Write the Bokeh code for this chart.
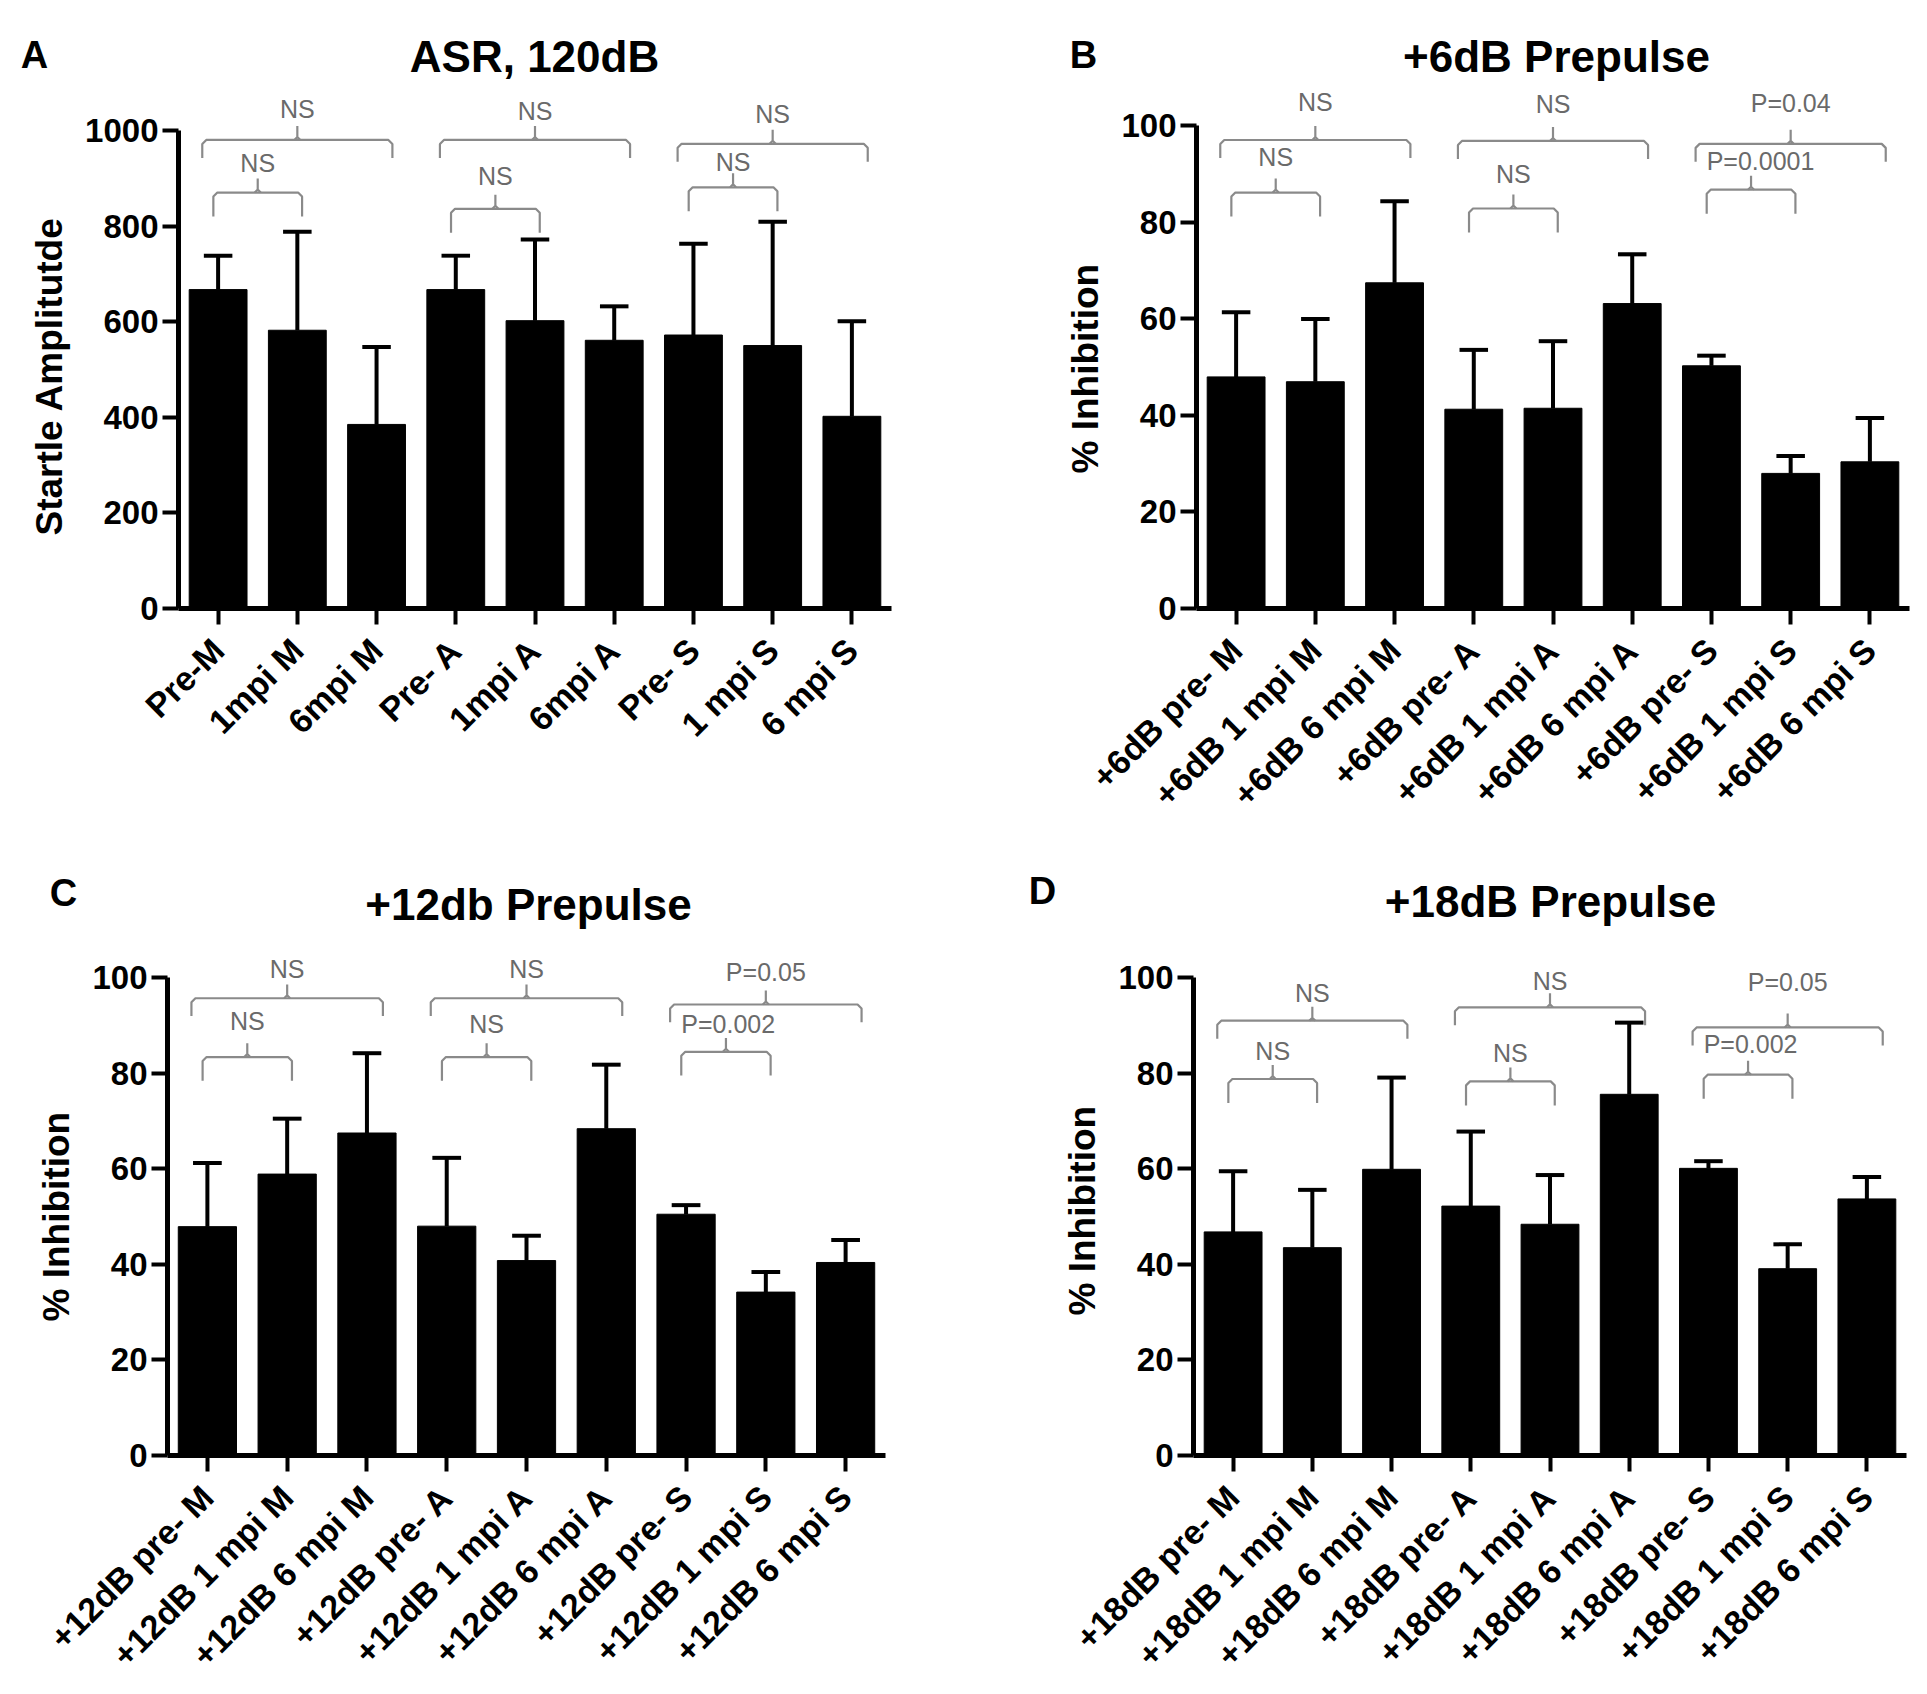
import math
from bokeh.plotting import figure
from bokeh.models import Range1d, FixedTicker, ColumnDataSource, Title
from bokeh.core.properties import value
from bokeh.layouts import column, row
from bokeh.embed import file_html
from bokeh.resources import INLINE

FONT = "Liberation Sans"

# ---------------- data ----------------
labels_A = ["Pre-M", "1mpi M", "6mpi M", "Pre- A", "1mpi A", "6mpi A", "Pre- S", "1 mpi S", "6 mpi S"]
means_A = [667, 582, 385, 667, 602, 561, 572, 550, 402]
sems_A = [71, 206, 162, 71, 170, 71, 191, 259, 199]

labels_B = ["+6dB pre- M", "+6dB 1 mpi M", "+6dB 6 mpi M", "+6dB pre- A", "+6dB 1 mpi A",
            "+6dB 6 mpi A", "+6dB pre- S", "+6dB 1 mpi S", "+6dB 6 mpi S"]
means_B = [48.0, 47.0, 67.5, 41.3, 41.5, 63.2, 50.3, 28.0, 30.4]
sems_B = [13.4, 13.0, 16.9, 12.3, 13.9, 10.2, 2.1, 3.6, 9.1]

labels_C = ["+12dB pre- M", "+12dB 1 mpi M", "+12dB 6 mpi M", "+12dB pre- A", "+12dB 1 mpi A",
            "+12dB 6 mpi A", "+12dB pre- S", "+12dB 1 mpi S", "+12dB 6 mpi S"]
means_C = [47.9, 58.9, 67.5, 48.0, 40.8, 68.4, 50.5, 34.2, 40.4]
sems_C = [13.3, 11.6, 16.7, 14.3, 5.2, 13.4, 1.9, 4.2, 4.7]

labels_D = ["+18dB pre- M", "+18dB 1 mpi M", "+18dB 6 mpi M", "+18dB pre- A", "+18dB 1 mpi A",
            "+18dB 6 mpi A", "+18dB pre- S", "+18dB 1 mpi S", "+18dB 6 mpi S"]
means_D = [46.8, 43.5, 59.9, 52.2, 48.4, 75.6, 60.1, 39.1, 53.7]
sems_D = [12.7, 12.1, 19.2, 15.6, 10.3, 15.0, 1.5, 5.1, 4.6]

# brackets: (first category, last category, line height, text height, text)
brackets_A = [(0, 2, 980, 1045, "NS"), (0, 1, 870, 932, "NS"),
              (3, 5, 980, 1040, "NS"), (3, 4, 836, 904, "NS"),
              (6, 8, 972, 1034, "NS"), (6, 7, 881, 934, "NS")]
brackets_B = [(0, 2, 97.1, 105.0, "NS"), (0, 1, 86.2, 93.5, "NS"),
              (3, 5, 96.9, 104.6, "NS"), (3, 4, 82.9, 90.1, "NS"),
              (6, 8, 96.3, 104.8, "P=0.04"), (6, 7, 86.8, 92.7, "P=0.0001")]
brackets_C = [(0, 2, 95.7, 101.9, "NS"), (0, 1, 83.4, 91.0, "NS"),
              (3, 5, 95.7, 101.9, "NS"), (3, 4, 83.4, 90.4, "NS"),
              (6, 8, 94.4, 101.1, "P=0.05"), (6, 7, 84.5, 90.4, "P=0.002")]
brackets_D = [(0, 2, 91.0, 96.8, "NS"), (0, 1, 78.8, 84.7, "NS"),
              (3, 5, 93.8, 99.4, "NS"), (3, 4, 78.3, 84.2, "NS"),
              (6, 8, 89.6, 99.1, "P=0.05"), (6, 7, 79.7, 86.2, "P=0.002")]

ticks_A = [0, 200, 400, 600, 800, 1000]
ticks_pct = [0, 20, 40, 60, 80, 100]

titles = ["ASR, 120dB", "+6dB Prepulse", "+12db Prepulse", "+18dB Prepulse"]
letters = ["A", "B", "C", "D"]

PANEL_W = 963


def header(width, height, items):
    h = figure(width=width, height=height, output_backend="svg", toolbar_location=None,
               x_range=Range1d(0, width), y_range=Range1d(height, 0),
               x_axis_location=None, y_axis_location=None,
               min_border_left=0, min_border_right=0, min_border_top=0, min_border_bottom=0)
    h.outline_line_color = None
    h.xgrid.visible = False
    h.ygrid.visible = False
    for text, x, y, size in items:
        h.text(x=[x], y=[y], text=[text], text_font=value(FONT), text_font_style="bold",
               text_font_size=size, text_align="center", text_baseline="middle", text_color="black")
    return h


def make_panel(height, borders, y_end, y_top, ticks, ylabel, ylabel_offset,
               cats, means, sems, brackets):
    bl, br, bt, bb = borders
    n = len(cats)
    p = figure(width=PANEL_W, height=height, output_backend="svg", toolbar_location=None,
               x_range=Range1d(0.5, n + 0.5), y_range=Range1d(0, y_end),
               min_border_left=bl, min_border_right=br, min_border_top=bt, min_border_bottom=bb)
    p.outline_line_color = None
    p.xgrid.visible = False
    p.ygrid.visible = False

    frame_w = PANEL_W - bl - br
    frame_h = height - bt - bb
    ux = n / frame_w
    uy = y_end / frame_h

    xs = list(range(1, n + 1))
    tops = [m + s for m, s in zip(means, sems)]
    src = ColumnDataSource(dict(x=xs, top=means, err=tops,
                                cl=[x - 0.18 for x in xs], cr=[x + 0.18 for x in xs]))
    p.segment(x0="x", y0="top", x1="x", y1="err", source=src, line_color="black", line_width=4)
    p.segment(x0="cl", y0="err", x1="cr", y1="err", source=src, line_color="black", line_width=4)
    p.vbar(x="x", top="top", bottom=0, width=0.73, source=src, fill_color="black", line_color="black")

    # significance brackets
    bxs, bys = [], []
    tx, ty, tt, ta = [], [], [], []
    for (i, j, yh, yt, txt) in brackets:
        top_level = (j - i) >= 2
        pad = 0.2 if top_level else 0.06
        drop = (18 if top_level else 24) * uy
        x1 = (i + 1) - pad
        x2 = (j + 1) + pad
        xm = (x1 + x2) / 2
        r = 4 * uy
        rx = 4 * ux
        bxs.append([x1, x1, x1 + rx, x2 - rx, x2, x2])
        bys.append([yh - drop, yh - r, yh, yh, yh - r, yh - drop])
        bxs.append([xm - 3 * ux, xm, xm, xm, xm + 3 * ux])
        bys.append([yh, yh + 3 * uy, yh + 14 * uy, yh + 3 * uy, yh])
        if txt.startswith("P") and not top_level:
            tx.append(x1)
            ta.append("left")
        else:
            tx.append(xm)
            ta.append("center")
        ty.append(yt)
        tt.append(txt)
    p.multi_line(xs=bxs, ys=bys, line_color="#8a8a8a", line_width=2.2)
    tsrc = ColumnDataSource(dict(x=tx, y=ty, t=tt, a=ta))
    p.text(x="x", y="y", text="t", text_align="a", source=tsrc, text_baseline="middle",
           text_color="#6a6a6a", text_font_size="25px", text_font=value(FONT))

    # axes
    for ax in (p.xaxis[0], p.yaxis[0]):
        ax.axis_line_width = 5
        ax.axis_line_color = "black"
        ax.major_tick_line_width = 4
        ax.major_tick_line_color = "black"
        ax.major_tick_out = 16
        ax.major_tick_in = 0
        ax.minor_tick_line_color = None
        ax.major_label_text_font = FONT
        ax.major_label_text_font_style = "bold"
        ax.major_label_text_color = "black"
    yax = p.yaxis[0]
    yax.ticker = FixedTicker(ticks=ticks)
    yax.bounds = (0, y_top)
    yax.major_label_text_font_size = "33px"
    yax.major_label_standoff = 4

    xax = p.xaxis[0]
    xax.ticker = FixedTicker(ticks=xs)
    xax.major_label_overrides = {x: c for x, c in zip(xs, cats)}
    xax.major_label_orientation = math.pi / 4
    xax.major_label_text_font_size = "34px"
    xax.major_label_standoff = 20

    # y axis title, placed along the axis extent
    p.add_layout(Title(text=ylabel, align="left", offset=ylabel_offset, standoff=25,
                       text_font=FONT, text_font_style="bold", text_font_size="37px",
                       text_color="black"), "left")
    return p


H1, H2 = 84, 84
head1 = header(2 * PANEL_W, H1, [(titles[0], 534, 56, "44px"), (letters[0], 34, 54, "38px"),
                                 (titles[1], 1556, 56, "44px"), (letters[1], 1083, 54, "38px")])
head2 = header(2 * PANEL_W, H2, [(titles[2], 528, 904 - 847, "44px"), (letters[2], 63, 892 - 847, "38px"),
                                 (titles[3], 1550, 901 - 847, "44px"), (letters[3], 1042, 890 - 847, "38px")])

pA = make_panel(847 - H1, (178, 72, 0, 239), 1096, 1000, ticks_A, "Startle Amplitutde", 73,
                labels_A, means_A, sems_A, brackets_A)
pB = make_panel(847 - H1, (233, 17, 0, 239), 108.6, 100, ticks_pct, "% Inhibition", 135,
                labels_B, means_B, sems_B, brackets_B)
pC = make_panel(845 - H2, (167, 78, 3, 237), 108, 100, ticks_pct, "% Inhibition", 134,
                labels_C, means_C, sems_C, brackets_C)
pD = make_panel(845 - H2, (230, 20, 8, 237), 108, 100, ticks_pct, "% Inhibition", 140,
                labels_D, means_D, sems_D, brackets_D)

layout = column(head1, row(pA, pB), head2, row(pC, pD))
open("out.html", "w").write(file_html(layout, INLINE))
